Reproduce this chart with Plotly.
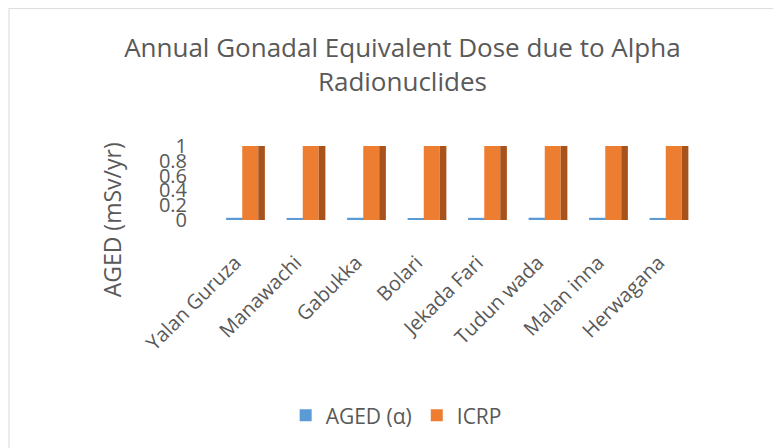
import plotly.graph_objects as go

# datos
locations = ["Yalan Guruza", "Manawachi", "Gabukka", "Bolari",
             "Jekada Fari", "Tudun wada", "Malan inna", "Herwagana"]
aged_alpha = [0.030, 0.028, 0.030, 0.027, 0.029, 0.031, 0.030, 0.028]
icrp = [1, 1, 1, 1, 1, 1, 1, 1]
y_ticks = [0, 0.2, 0.4, 0.6, 0.8, 1]

GRIS = "#595959"
SHIFT = 0.15  # desplaza las etiquetas a la izquierda respecto a las barras

fig = go.Figure()

# AGED (alpha) - barra azul, casi plana
fig.add_trace(go.Bar(
    x=locations, y=aged_alpha, name="AGED (α)",
    marker=dict(color="#5B9BD5", line=dict(width=0)),
    offset=-0.30 + SHIFT, width=0.28
))

# ICRP - cara frontal
fig.add_trace(go.Bar(
    x=locations, y=icrp, name="ICRP",
    marker=dict(color="#ED7D31", line=dict(width=0)),
    offset=-0.033 + SHIFT, width=0.264
))

# ICRP - cara lateral (efecto 3D)
fig.add_trace(go.Bar(
    x=locations, y=icrp, name="ICRP lateral", showlegend=False,
    marker=dict(color="#A9531C", line=dict(width=0)),
    offset=0.231 + SHIFT, width=0.11, hoverinfo="skip"
))

fig.update_layout(
    width=781, height=448,
    barmode="overlay",
    paper_bgcolor="white", plot_bgcolor="white",
    margin=dict(l=206, r=91, t=138, b=236, autoexpand=False),
    font=dict(family="Open Sans", color=GRIS),
    title=dict(
        text="Annual Gonadal Equivalent Dose due to Alpha<br>Radionuclides",
        x=0.505, xanchor="center", xref="container",
        y=0.89, yanchor="middle", yref="container",
        font=dict(size=26, color=GRIS)
    ),
    xaxis=dict(
        range=[-0.5 + SHIFT, 7.5 + SHIFT],
        tickangle=-45, tickfont=dict(size=20, color=GRIS),
        showgrid=False, showline=False, zeroline=False,
        ticklabelstandoff=26, automargin=False
    ),
    yaxis=dict(
        range=[0, 1], tickvals=y_ticks, tickformat="",
        tickfont=dict(size=20, color=GRIS),
        showgrid=False, showline=False, zeroline=False,
        ticklabelstandoff=26, automargin=False
    ),
    legend=dict(
        orientation="h", xref="container", yref="container",
        x=0.497, xanchor="center", y=0.09, yanchor="middle",
        font=dict(size=21, color=GRIS), itemwidth=30
    ),
    annotations=[dict(
        text="AGED (mSv/yr)", textangle=-90,
        xref="paper", yref="paper", x=-0.21, y=0,
        xanchor="center", yanchor="middle", showarrow=False,
        font=dict(size=23, color=GRIS)
    )],
    shapes=[dict(
        type="rect", xref="paper", yref="paper",
        x0=-0.4236, x1=1.4, y0=-6, y1=2.86,
        line=dict(color="#D9D9D9", width=1), layer="below"
    )]
)

fig.write_html("out.html")
